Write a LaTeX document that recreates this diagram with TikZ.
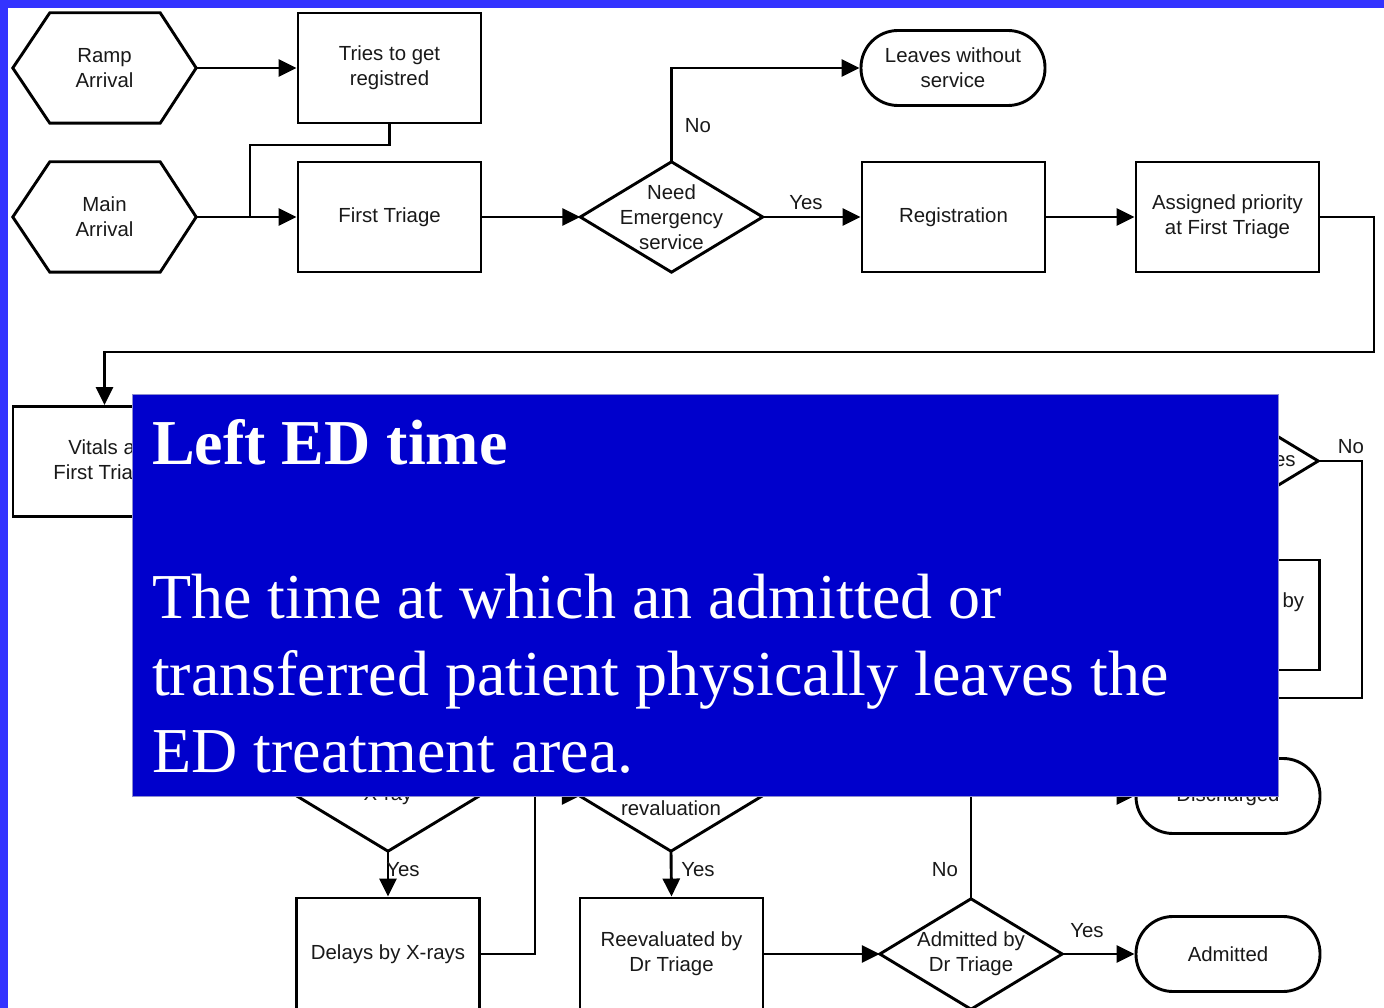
\documentclass[tikz,border=0pt]{standalone}
\usepackage{fontspec}
\setmainfont{Liberation Sans}
\newfontfamily\notefont{Liberation Serif}
\usetikzlibrary{arrows.meta,calc}

\definecolor{frameblue}{HTML}{3333FF}
\definecolor{noteblue}{HTML}{0000CC}
\definecolor{noteedge}{HTML}{8C8CD0}

\tikzset{
  flow/.style={line width=2.9pt, draw=black, line join=miter},
  arr/.style={-{Triangle[length=18pt,width=17pt]}},
  lbl/.style={font=\fontsize{20.4}{25}\selectfont, inner sep=0pt, align=center, text=black!90},
  proc/.style={lbl, draw, line width=2.9pt, minimum width=183pt, minimum height=110pt},
  term/.style={lbl, draw, line width=2.9pt, rounded corners=37pt, minimum width=184pt, minimum height=75pt},
  slot/.style={lbl, minimum width=182pt, minimum height=110pt},
  notetext/.style={text=white, inner sep=0pt, anchor=base west},
}

% outline of a hexagonal start node
\newcommand\hexoutline[1]{%
  \draw[flow] (#1.west) -- ($(#1.north west)+(37,0)$) -- ($(#1.north east)+(-36,0)$)
    -- (#1.east) -- ($(#1.south east)+(-36,0)$) -- ($(#1.south west)+(37,0)$) -- cycle;}
% outline of a decision node
\newcommand\decoutline[1]{%
  \draw[flow] (#1.west) -- (#1.north) -- (#1.east) -- (#1.south) -- cycle;}

\begin{document}
\begin{tikzpicture}[x=1pt,y=-1pt]
\useasboundingbox (0,0) rectangle (1384,1008);
\clip (0,0) rectangle (1384,1008);
\fill[white] (0,0) rectangle (1384,1008);

% ---- top rows ----
\node[slot, minimum width=183pt] (ramp) at (104.5,68) {Ramp\\Arrival};
\hexoutline{ramp}
\node[slot, minimum width=183pt] (main) at (104.5,217) {Main\\Arrival};
\hexoutline{main}
\node[proc] (tries) at (389.5,68) {Tries to get\\registred};
\node[proc] (triage) at (389.5,217) {First Triage};
\node[slot] (need) at (671.5,217) {Need\\Emergency\\service};
\decoutline{need}
\node[term] (leaves) at (953,68) {Leaves without\\service};
\node[proc] (reg) at (953.5,217) {Registration};
\node[proc] (prio) at (1227.5,217) {Assigned priority\\at First Triage};

% ---- middle row ----
\node[proc] (vitals) at (104.5,461.5) {Vitals at\\First Triage};
\node[slot] (anal) at (1227,461) {Need Analyses};
\decoutline{anal}
\node[proc] (treat) at (1228,615) {Treated in ED by\\\hspace*{8pt}Physician};

% ---- lower rows ----
\node[slot] (xray) at (388,796) {X-ray};
\decoutline{xray}
\node[slot] (rev) at (671,796) {Need\\revaluation};
\decoutline{rev}
\node[term] (disch) at (1228,796) {Discharged};
\node[proc, minimum height=112pt] (delays) at (388,954) {Delays by X-rays};
\node[proc, minimum height=112pt] (reeval) at (671.5,954) {Reevaluated by\\Dr Triage};
\node[slot] (adm) at (971,954) {Admitted by\\Dr Triage};
\decoutline{adm}
\node[term] (admitted) at (1228,954) {Admitted};

% ---- connectors ----
\coordinate (j1) at (250,145);
\coordinate (j2) at (250,217);
\coordinate (r1) at (1374,352);
\coordinate (n1) at (1362,698);
\coordinate (n2) at (1200,698);
\coordinate (k1) at (535,796);

\draw[flow,arr] (ramp.east) -- (tries.west);
\draw[flow,arr] (main.east) -- (triage.west);
\draw[flow] (tries.south) |- (j1) -- (j2);
\draw[flow,arr] (triage.east) -- (need.west);
\draw[flow,arr] (need.north) |- (leaves.west);
\draw[flow,arr] (need.east) -- (reg.west);
\draw[flow,arr] (reg.east) -- (prio.west);
\draw[flow,arr] (prio.east) -| (r1) -| (vitals.north);
\draw[flow] (anal.east) -| (n1) -- (n2);
\draw[flow,arr] (xray.south) -- (delays.north);
\draw[flow,arr] (delays.east) -| (k1) -- (rev.west);
\draw[flow,arr] (rev.south) -- (reeval.north);
\draw[flow,arr] (reeval.east) -- (adm.west);
\draw[flow,arr] (adm.north) |- (disch.west);
\draw[flow,arr] (adm.east) -- (admitted.west);

% ---- branch labels ----
\node[lbl] (lno1) at (698,126) {No};
\node[lbl] (lyes1) at (806,203) {Yes};
\node[lbl] (lno2) at (1351,447) {No};
\node[lbl] (lyes2) at (403,870) {Yes};
\node[lbl] (lyes3) at (698,870) {Yes};
\node[lbl] (lno3) at (945,870) {No};
\node[lbl] (lyes4) at (1087,931) {Yes};

% ---- definition panel ----
\node[fill=noteblue, draw=noteedge, line width=1pt, anchor=north west,
      minimum width=1146pt, minimum height=402pt, inner sep=0pt] (note) at (132,394) {};
\node[notetext, font=\notefont\bfseries\fontsize{64}{77}\selectfont] (ttl) at (152,464) {Left ED time};
\node[notetext, font=\notefont\fontsize{64}{77}\selectfont] (b1) at (152,618) {The time at which an admitted or};
\node[notetext, font=\notefont\fontsize{64}{77}\selectfont] (b2) at (152,695) {transferred patient physically leaves the};
\node[notetext, font=\notefont\fontsize{64}{77}\selectfont] (b3) at (152,772) {ED treatment area.};

% ---- slide frame ----
\fill[frameblue] (0,0) rectangle (1384,8);
\fill[frameblue] (0,0) rectangle (8,1008);
\end{tikzpicture}
\end{document}
